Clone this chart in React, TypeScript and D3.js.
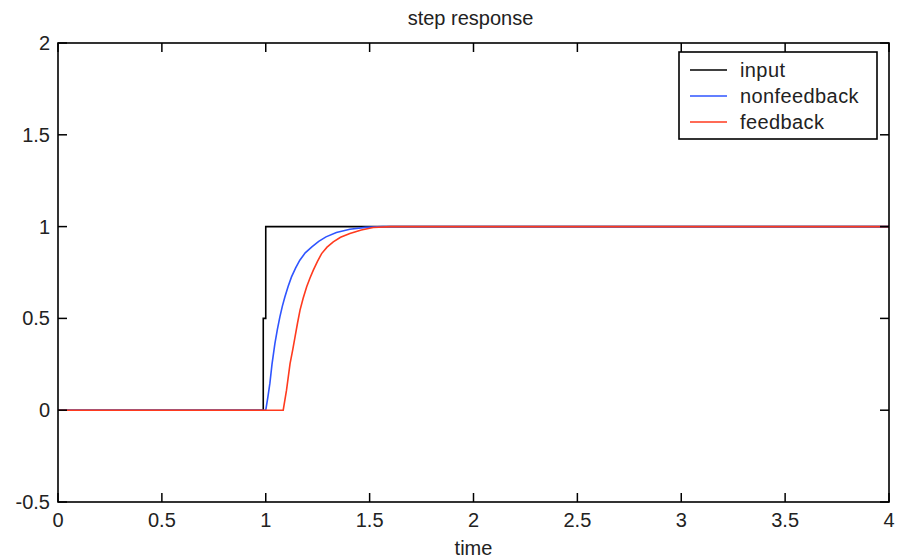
import React, { useRef, useEffect } from 'react';
import * as d3 from 'd3';

// tick values
const xTicks = [0, 0.5, 1, 1.5, 2, 2.5, 3, 3.5, 4];
const yTicks = [-0.5, 0, 0.5, 1, 1.5, 2];

// input step
const inputT = [0, 0.988, 0.988, 1.0, 1.0, 4];
const inputY = [0, 0, 0.5, 0.5, 1, 1];

// nonfeedback response
const blueT = [0, 1.0, 1.01, 1.02, 1.03, 1.044, 1.056, 1.068, 1.08, 1.092, 1.108, 1.124, 1.144, 1.164, 1.19, 1.222, 1.255, 1.29, 1.34, 1.405, 1.48, 1.565, 4];
const blueY = [0, 0, 0.07, 0.147, 0.25, 0.363, 0.44, 0.508, 0.567, 0.617, 0.675, 0.726, 0.775, 0.817, 0.857, 0.889, 0.92, 0.944, 0.968, 0.986, 0.996, 1.0, 1.0];

// feedback response
const redT = [0, 1.084, 1.1, 1.117, 1.13, 1.141, 1.153, 1.165, 1.18, 1.197, 1.213, 1.229, 1.249, 1.269, 1.295, 1.325, 1.36, 1.405, 1.46, 1.517, 1.6, 4];
const redY = [0, 0, 0.109, 0.254, 0.33, 0.399, 0.475, 0.545, 0.61, 0.672, 0.72, 0.763, 0.81, 0.853, 0.888, 0.917, 0.942, 0.962, 0.982, 0.995, 1.0, 1.0];

const seriesNames = ['input', 'nonfeedback', 'feedback'];
const seriesColors = ['#000000', '#2f55ff', '#ff3a1e'];

const W = 901;
const H = 558;
const FONT = '"Liberation Sans", Arial, sans-serif';

const App = () => {
  const svgRef = useRef<SVGSVGElement>(null);

  useEffect(() => {
    const left = 58, right = 889, top = 43, bottom = 502;
    const x = d3.scaleLinear().domain([0, 4]).range([left, right]);
    const y = d3.scaleLinear().domain([-0.5, 2]).range([bottom, top]);

    const svg = d3.select(svgRef.current).html('');

    svg.append('rect').attr('width', W).attr('height', H).attr('fill', '#fff');

    // Title and x label
    svg.append('text').attr('x', (left + right) / 2 - 3).attr('y', 25)
      .attr('text-anchor', 'middle').attr('font-family', FONT).attr('font-size', 20)
      .attr('fill', '#222').text('step response');
    svg.append('text').attr('x', (left + right) / 2).attr('y', 555)
      .attr('text-anchor', 'middle').attr('font-family', FONT).attr('font-size', 20)
      .attr('fill', '#222').text('time');

    // Series
    const zip = (ts: number[], vs: number[]) => ts.map((t, i) => [t, vs[i]] as [number, number]);
    const line = d3.line<[number, number]>().x(d => x(d[0])).y(d => y(d[1]));
    const series = [zip(inputT, inputY), zip(blueT, blueY), zip(redT, redY)];
    series.forEach((s, i) => {
      svg.append('path').datum(s)
        .attr('fill', 'none')
        .attr('stroke', seriesColors[i])
        .attr('stroke-width', 1.6)
        .attr('d', line);
    });

    // Box
    svg.append('rect').attr('x', left).attr('y', top)
      .attr('width', right - left).attr('height', bottom - top)
      .attr('fill', 'none').attr('stroke', '#000').attr('stroke-width', 1.6);

    const tickLen = 9;
    // x ticks (bottom and top, inward)
    const xt = svg.append('g');
    xTicks.forEach(v => {
      xt.append('line').attr('x1', x(v)).attr('x2', x(v)).attr('y1', bottom).attr('y2', bottom - tickLen)
        .attr('stroke', '#000').attr('stroke-width', 1.5);
      xt.append('line').attr('x1', x(v)).attr('x2', x(v)).attr('y1', top).attr('y2', top + tickLen)
        .attr('stroke', '#000').attr('stroke-width', 1.5);
      xt.append('text').attr('x', x(v)).attr('y', 527)
        .attr('text-anchor', 'middle').attr('font-family', FONT).attr('font-size', 20)
        .attr('fill', '#222').text(String(v));
    });

    // y ticks (left and right, inward)
    const yt = svg.append('g');
    yTicks.forEach(v => {
      yt.append('line').attr('x1', left).attr('x2', left + tickLen).attr('y1', y(v)).attr('y2', y(v))
        .attr('stroke', '#000').attr('stroke-width', 1.5);
      yt.append('line').attr('x1', right).attr('x2', right - tickLen).attr('y1', y(v)).attr('y2', y(v))
        .attr('stroke', '#000').attr('stroke-width', 1.5);
      yt.append('text').attr('x', 50).attr('y', y(v) + 7)
        .attr('text-anchor', 'end').attr('font-family', FONT).attr('font-size', 20)
        .attr('fill', '#222').text(String(v));
    });

    // Legend
    const lg = svg.append('g');
    lg.append('rect').attr('x', 679).attr('y', 52).attr('width', 198).attr('height', 87)
      .attr('fill', '#fff').attr('stroke', '#000').attr('stroke-width', 1.6);
    seriesNames.forEach((name, i) => {
      const ly = 70 + i * 26;
      lg.append('line').attr('x1', 690).attr('x2', 727).attr('y1', ly).attr('y2', ly)
        .attr('stroke', seriesColors[i]).attr('stroke-width', 1.6);
      lg.append('text').attr('x', 740).attr('y', ly + 7)
        .attr('font-family', FONT).attr('font-size', 20).attr('letter-spacing', 0.4)
        .attr('fill', '#222').text(name);
    });
  }, []);

  return (
    <svg ref={svgRef} width={W} height={H}
      style={{ position: 'absolute', left: 0, top: 0, display: 'block' }} />
  );
};

export default App;
